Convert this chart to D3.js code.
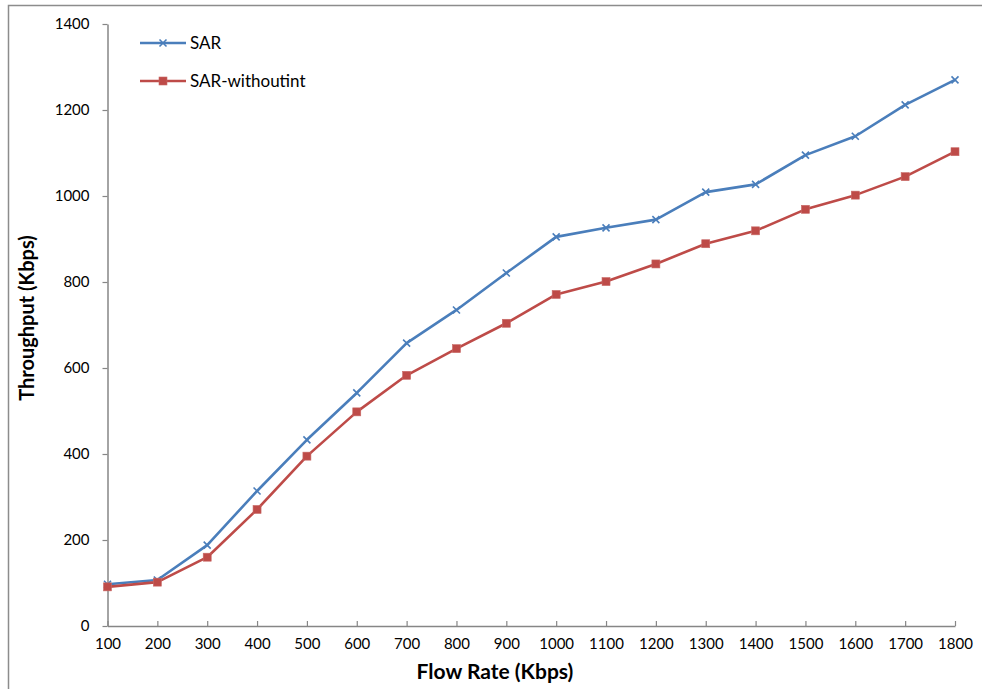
<!DOCTYPE html>
<html>
<head>
<meta charset="utf-8">
<script src="https://cdn.jsdelivr.net/npm/d3@7"></script>
<style>
  body { margin: 0; background: #fff; }
  svg { display: block; }
  text { font-family: Lato, 'Open Sans', sans-serif; fill: #000; }
</style>
</head>
<body>
<div id="chart"></div>
<script>
// data
var flowRates = [100,200,300,400,500,600,700,800,900,1000,1100,1200,1300,1400,1500,1600,1700,1800];
var sar = [97,107,188,314,433,542,658,735,821,905,926,945,1009,1027,1095,1139,1212,1270];
var sarWithoutInt = [91,102,160,271,395,498,583,645,704,771,801,842,889,919,969,1002,1045,1103];
var yTicks = [0,200,400,600,800,1000,1200,1400];
var seriesNames = ['SAR', 'SAR-withoutint'];

var W = 982, H = 689;
var margin = {left: 107.5, right: 27, top: 24, bottom: 63};

var svg = d3.select('#chart').append('svg')
  .attr('width', W).attr('height', H);

// outer chart frame
svg.append('rect')
  .attr('x', 8.5).attr('y', 5.5)
  .attr('width', 1000).attr('height', 700)
  .attr('fill', 'none').attr('stroke', '#8c8c8c').attr('stroke-width', 1.5);

var x = d3.scaleLinear().domain([100, 1800]).range([margin.left, W - margin.right]);
var y = d3.scaleLinear().domain([0, 1400]).range([H - margin.bottom, margin.top]);

var axisColor = '#868686';

// x axis, ticks pointing up into the plot
var gx = svg.append('g')
  .attr('transform', 'translate(0,' + y(0) + ')')
  .call(d3.axisBottom(x).tickValues(flowRates).tickFormat(d3.format('d'))
    .tickSizeInner(-5).tickSizeOuter(0).tickPadding(12));
gx.select('.domain').attr('stroke', axisColor).attr('stroke-width', 1.5);
gx.selectAll('.tick line').attr('stroke', axisColor).attr('stroke-width', 1.2);
gx.selectAll('.tick text').style('font-size', '15px').style('font-family', 'Lato, sans-serif');

// y axis
var gy = svg.append('g')
  .attr('transform', 'translate(' + x(100) + ',0)')
  .call(d3.axisLeft(y).tickValues(yTicks).tickFormat(d3.format('d'))
    .tickSizeInner(5).tickSizeOuter(0).tickPadding(13));
gy.select('.domain').attr('stroke', axisColor).attr('stroke-width', 1.5);
gy.selectAll('.tick line').attr('stroke', axisColor).attr('stroke-width', 1.2);
gy.selectAll('.tick text').style('font-size', '15px').style('font-family', 'Lato, sans-serif');

// axis titles
svg.append('text')
  .attr('x', 495).attr('y', 679)
  .attr('text-anchor', 'middle')
  .style('font-size', '21px').style('font-weight', 'bold')
  .text('Flow Rate (Kbps)');

svg.append('text')
  .attr('transform', 'translate(34,318) rotate(-90)')
  .attr('text-anchor', 'middle')
  .style('font-size', '20px').style('font-weight', 'bold')
  .text('Throughput (Kbps)');

var colors = ['#4a7ebb', '#be4b48'];
var line = d3.line().x(function(d) { return x(d[0]); }).y(function(d) { return y(d[1]); });

function drawCross(g, cx, cy, color) {
  var s = 3.5;
  g.append('path')
    .attr('d', 'M' + (cx - s) + ',' + (cy - s) + 'L' + (cx + s) + ',' + (cy + s) +
               'M' + (cx - s) + ',' + (cy + s) + 'L' + (cx + s) + ',' + (cy - s))
    .attr('stroke', color).attr('stroke-width', 1.6).attr('fill', 'none');
}
function drawSquare(g, cx, cy, color) {
  g.append('rect')
    .attr('x', cx - 4).attr('y', cy - 4)
    .attr('width', 8).attr('height', 8)
    .attr('fill', color).attr('stroke', '#c96a67').attr('stroke-width', 0.6);
}

var allSeries = [sar, sarWithoutInt];
var markers = [drawCross, drawSquare];

allSeries.forEach(function(vals, i) {
  var pts = flowRates.map(function(f, j) { return [f, vals[j]]; });
  var g = svg.append('g');
  g.append('path')
    .datum(pts)
    .attr('d', line)
    .attr('fill', 'none')
    .attr('stroke', colors[i])
    .attr('stroke-width', 2.6)
    .attr('stroke-linejoin', 'round');
  pts.forEach(function(p) { markers[i](g, x(p[0]), y(p[1]), colors[i]); });
});

// legend
var legend = svg.append('g');
seriesNames.forEach(function(name, i) {
  var ly = 43 + i * 38;
  legend.append('line')
    .attr('x1', 140).attr('x2', 186).attr('y1', ly).attr('y2', ly)
    .attr('stroke', colors[i]).attr('stroke-width', 2.6);
  markers[i](legend, 163, ly, colors[i]);
  legend.append('text')
    .attr('x', 190).attr('y', ly + 6)
    .style('font-size', '17px')
    .text(name);
});
</script>
</body>
</html>
